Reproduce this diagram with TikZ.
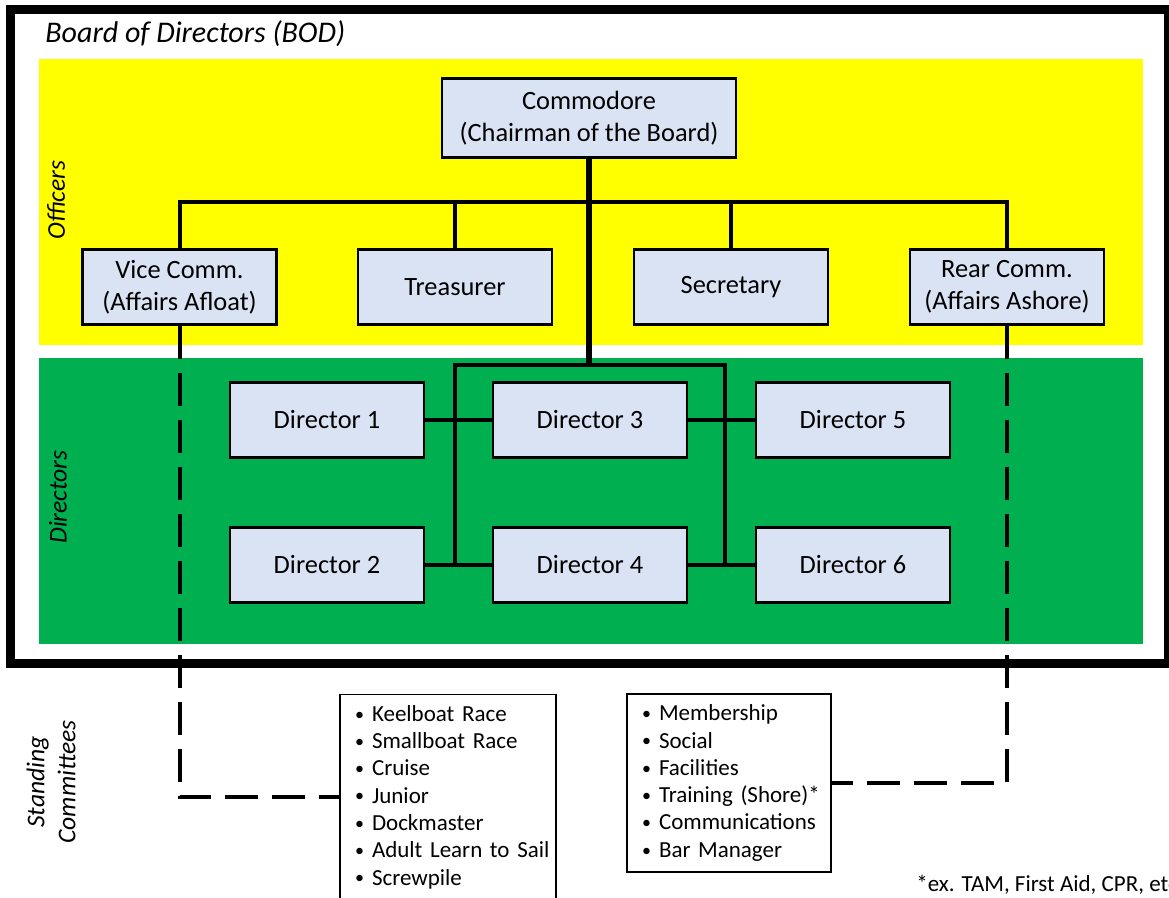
\documentclass[tikz,border=0pt]{standalone}
\usepackage{fontspec}
\setmainfont{Carlito}
\definecolor{boardyellow}{HTML}{FFFF00}
\definecolor{boardgreen}{HTML}{00B050}
\definecolor{boxblue}{HTML}{DAE3F3}
\tikzset{
  post/.style={draw,line width=1.4pt,fill=boxblue,minimum width=97pt,minimum height=37.5pt,align=center,font=\fontsize{13.2}{16}\selectfont},
  list/.style={draw,line width=0.7pt,fill=white,align=left,inner xsep=0pt,inner ysep=5.3pt,font=\fontsize{11.5}{13.65}\selectfont},
  side/.style={rotate=90,align=center,font=\fontsize{12.8}{15.5}\selectfont\itshape},
  link/.style={line width=2pt},
  dashlink/.style={line width=2pt,dash pattern=on 16.5pt off 7pt}
}
\newcommand{\itm}[1]{\hspace*{7.5pt}\makebox[8.5pt][l]{\raisebox{0.6pt}{\fontsize{9}{9}\selectfont\textbullet}}#1}
\begin{document}
\begin{tikzpicture}[x=0.5pt,y=-0.5pt]
\useasboundingbox (0,0) rectangle (1169,898);
\clip (0,0) rectangle (1169,898);
\draw[line width=4.5pt] (10,10) rectangle (1168,664);
\fill[boardyellow] (39,59) rectangle (1143,345);
\fill[boardgreen] (39,358) rectangle (1143,644);

\node[anchor=base west,inner sep=0,font=\fontsize{15}{18}\selectfont\itshape] (bod) at (45,43) {Board of Directors (BOD)};
\node[side] (off) at (56,200) {Officers};
\node[side] (dir) at (58,497) {Directors};
\node[side] (std) at (51,782) {Standing\\Committees};

\node[post,minimum width=147pt,minimum height=39.5pt] (com) at (589,118) {Commodore\\(Chairman of the Board)};
\node[post] (vc) at (179.5,287) {Vice Comm.\\(Affairs Afloat)};
\node[post] (tr) at (455,287) {Treasurer};
\node[post] (se) at (731,287) {Secretary};
\node[post] (rc) at (1007,287) {Rear Comm.\\(Affairs Ashore)};

\node[post] (d1) at (327,420) {Director 1};
\node[post] (d3) at (590,420) {Director 3};
\node[post] (d5) at (853,420) {Director 5};
\node[post] (d2) at (327,565) {Director 2};
\node[post] (d4) at (590,565) {Director 4};
\node[post] (d6) at (853,565) {Director 6};

\coordinate (ob) at (589,202);
\coordinate (db) at (589,365);
\coordinate (dl) at (455,365);
\coordinate (dr) at (725,365);

\draw[link] (vc.north) -- (vc.north |- ob) -- (rc.north |- ob) -- (rc.north);
\draw[link] (tr.north) -- (tr.north |- ob);
\draw[link] (se.north) -- (se.north |- ob);
\draw[line width=2.6pt] (com.south) -- (db);
\draw[link] (dl |- d2.east) -- (dl) -- (dr) -- (dr |- d6.west);
\draw[link] (d1) -- (d3) -- (d5);
\draw[link] (d2) -- (d4) -- (d6);

\node[list,text width=108pt] (kb) at (448,797) {\itm{Keelboat Race}\\\itm{Smallboat Race}\\\itm{Cruise}\\\itm{Junior}\\\itm{Dockmaster}\\\itm{Adult Learn to Sail}\\\itm{Screwpile}};
\node[list,text width=102pt] (mb) at (729,783) {\itm{Membership}\\\itm{Social}\\\itm{Facilities}\\\itm{Training (Shore)*}\\\itm{Communications}\\\itm{Bar Manager}};

\draw[dashlink] (vc.south) |- (kb.west);
\draw[dashlink] (rc.south) |- (mb.east);

\node[anchor=base west,inner sep=0,font=\fontsize{11.5}{14}\selectfont] (fn) at (916,892) {*ex. TAM, First Aid, CPR, etc.};
\end{tikzpicture}
\end{document}
